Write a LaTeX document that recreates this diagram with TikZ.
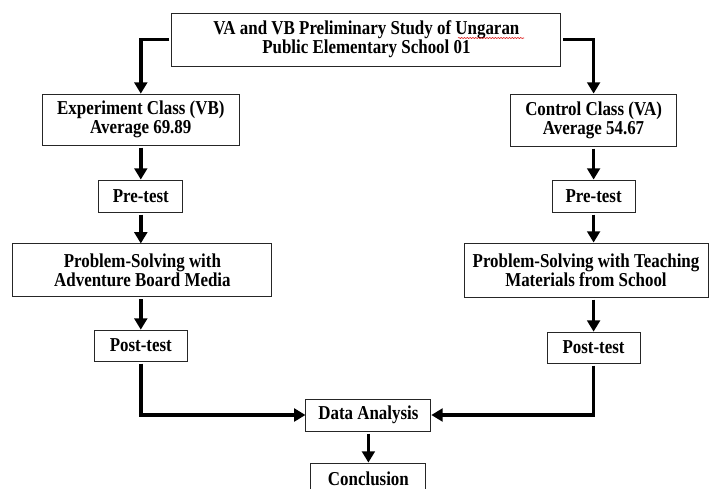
\documentclass[tikz,border=0pt]{standalone}
\usepackage{fontspec}
\setmainfont{Liberation Serif}[FakeStretch=0.86]
\usetikzlibrary{arrows.meta,decorations.pathmorphing}

\begin{document}
\begin{tikzpicture}[
  box/.style={draw=black!85,line width=0.6pt,align=center,inner sep=2pt,
    font=\bfseries\fontsize{14}{13.5}\selectfont},
  arr/.style={line width=2.6pt,shorten <=1.5pt,-{Triangle[width=9pt,length=8pt]}}
]
  \useasboundingbox (0,0) rectangle (17.775,12.2);
  % study
  \node[box,minimum width=9.725cm,minimum height=1.325cm] (top) at (9.16,11.21)
    {VA and VB Preliminary Study of Ungaran\\Public Elementary School 01};
  \draw[red!85!black,line width=0.4pt,decorate,
    decoration={snake,amplitude=0.35pt,segment length=2pt}]
    (11.45,11.25) -- (13.1,11.25);
  % experiment class
  \node[box,minimum width=4.925cm,minimum height=1.275cm] (exp) at (3.52,9.21)
    {Experiment Class (VB)\\Average 69.89};
  \node[box,minimum width=2.1cm,minimum height=0.8cm] (preL) at (3.52,7.3) {Pre-test};
  \node[box,minimum width=6.475cm,minimum height=1.325cm] (probL) at (3.56,5.44)
    {Problem-Solving with\\Adventure Board Media};
  \node[box,minimum width=2.325cm,minimum height=0.775cm] (postL) at (3.52,3.56) {Post-test};
  % control class
  \node[box,minimum width=4.15cm,minimum height=1.3cm] (ctrl) at (14.84,9.2)
    {Control Class (VA)\\Average 54.67};
  \node[box,minimum width=2.075cm,minimum height=0.8cm] (preR) at (14.84,7.3) {Pre-test};
  \node[box,minimum width=6.1cm,minimum height=1.35cm] (probR) at (14.65,5.45)
    {Problem-Solving with Teaching\\Materials from School};
  \node[box,minimum width=2.325cm,minimum height=0.775cm] (postR) at (14.84,3.51) {Post-test};
  % analysis
  \node[box,minimum width=3.125cm,minimum height=0.8cm] (data) at (9.21,1.825) {Data Analysis};
  \node[box,minimum width=2.875cm,minimum height=0.8cm] (concl) at (9.21,0.225) {Conclusion};

  \draw[arr] (top.west) -| (exp.north);
  \draw[arr] (top.east) -| (ctrl.north);
  \draw[arr] (exp.south) -- (preL.north);
  \draw[arr] (preL.south) -- (preL.south |- probL.north);
  \draw[arr] (postL.north |- probL.south) -- (postL.north);
  \draw[arr] (ctrl.south) -- (preR.north);
  \draw[arr] (preR.south) -- (preR.south |- probR.north);
  \draw[arr] (postR.north |- probR.south) -- (postR.north);
  \draw[arr] (postL.south) |- (data.west);
  \draw[arr] (postR.south) |- (data.east);
  \draw[arr] (data.south) -- (concl.north);
\end{tikzpicture}
\end{document}
